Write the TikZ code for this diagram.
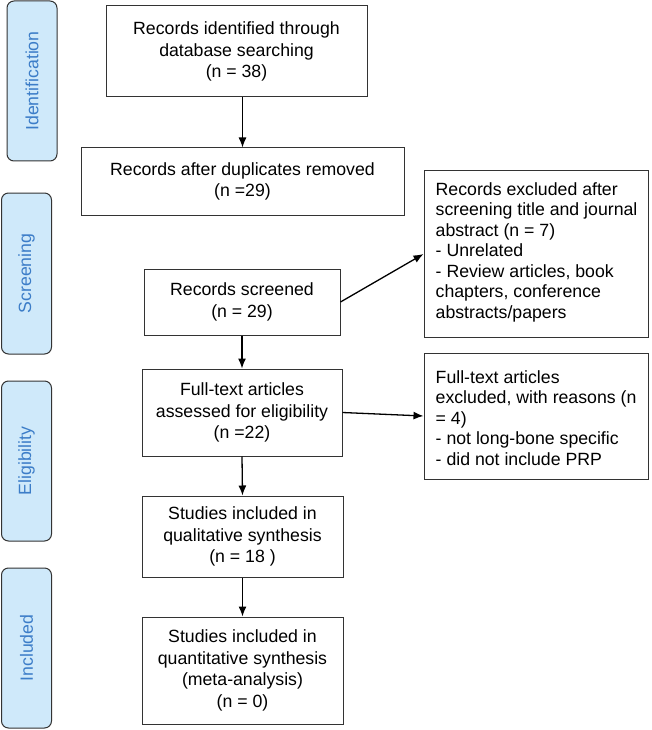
\documentclass[tikz,border=0pt]{standalone}
\usepackage{fontspec}
\setmainfont{Liberation Sans}
\usetikzlibrary{arrows.meta}
\definecolor{sidefill}{HTML}{CFE9FA}
\definecolor{sidetext}{HTML}{3C7DC8}
\definecolor{boxline}{HTML}{333333}
\tikzset{
  mainbox/.style={draw=boxline, line width=1pt, fill=white, align=center, inner sep=0pt,
    font=\fontsize{17.7}{21.5}\selectfont},
  sidebox/.style={draw=boxline, line width=1pt, fill=sidefill, rounded corners=7pt, inner sep=0pt,
    minimum width=50pt, minimum height=160pt},
  sidelabel/.style={text=sidetext, rotate=90, font=\fontsize{17.7}{21.5}\selectfont},
  notebox/.style={draw=boxline, line width=1pt, fill=white, inner sep=0pt, minimum width=224pt},
  notetext/.style={align=left, inner sep=0pt, anchor=west, font=\fontsize{17.7}{20.5}\selectfont},
  flow/.style={draw=black, line width=1.3pt, -{Latex[length=10pt,width=8pt]}}
}
\begin{document}
\begin{tikzpicture}[x=1pt,y=-1pt]
\useasboundingbox (0,0) rectangle (651,730);
% side labels
\node[sidebox] (sid) at (32,81) {};
\node[sidelabel] (tid) at (sid.center) {Identification};
\node[sidebox, minimum height=161pt] (ssc) at (26.5,273.5) {};
\node[sidelabel] (tsc) at (ssc.center) {Screening};
\node[sidebox] (sel) at (26.5,461) {};
\node[sidelabel] (tel) at (sel.center) {Eligibility};
\node[sidebox] (sin) at (26.5,648) {};
\node[sidelabel] (tin) at (sin.center) {Included};
% main boxes
\node[mainbox, minimum width=261pt, minimum height=91pt] (b1) at (236.5,51.5)
  {Records identified through\\database searching\\(n = 38)};
\node[mainbox, minimum width=323pt, minimum height=67pt] (b2) at (242.5,181.5)
  {Records after duplicates removed\\(n =29)};
\node[mainbox, minimum width=196pt, minimum height=66pt] (b3) at (242,302)
  {Records screened\\(n = 29)};
\node[mainbox, minimum width=200pt, minimum height=87pt] (b4) at (242,412.5)
  {Full-text articles\\assessed for eligibility\\(n =22)};
\node[mainbox, minimum width=201pt, minimum height=81pt] (b5) at (242.5,536.5)
  {Studies included in\\qualitative synthesis\\(n = 18 )};
\node[mainbox, minimum width=201pt, minimum height=107pt] (b6) at (242.5,670.5)
  {Studies included in\\quantitative synthesis\\(meta-analysis)\\(n = 0)};
% exclusion boxes
\node[notebox, minimum height=166pt] (r1) at (536,254) {};
\node[notetext] (r1t) at ([xshift=12pt,yshift=2pt]r1.west)
  {Records excluded after\\screening title and journal\\abstract (n = 7)\\- Unrelated\\- Review articles, book\\chapters, conference\\abstracts/papers};
\node[notebox, minimum height=126pt] (r2) at (536,416) {};
\node[notetext] (r2t) at ([xshift=12pt,yshift=-2pt]r2.west)
  {Full-text articles\\excluded, with reasons (n\\= 4)\\- not long-bone specific\\- did not include PRP};
% connectors
\draw[flow] (b2.north |- b1.south) -- (b2.north);
\draw[flow] (b3.south) -- (b4.north);
\draw[flow] (b4.south) -- (b5.north);
\draw[flow] (b5.south) -- (b6.north);
\draw[flow] (b3.east) -- (r1.west);
\draw[flow] (b4.east) -- (r2.west);
\end{tikzpicture}
\end{document}
